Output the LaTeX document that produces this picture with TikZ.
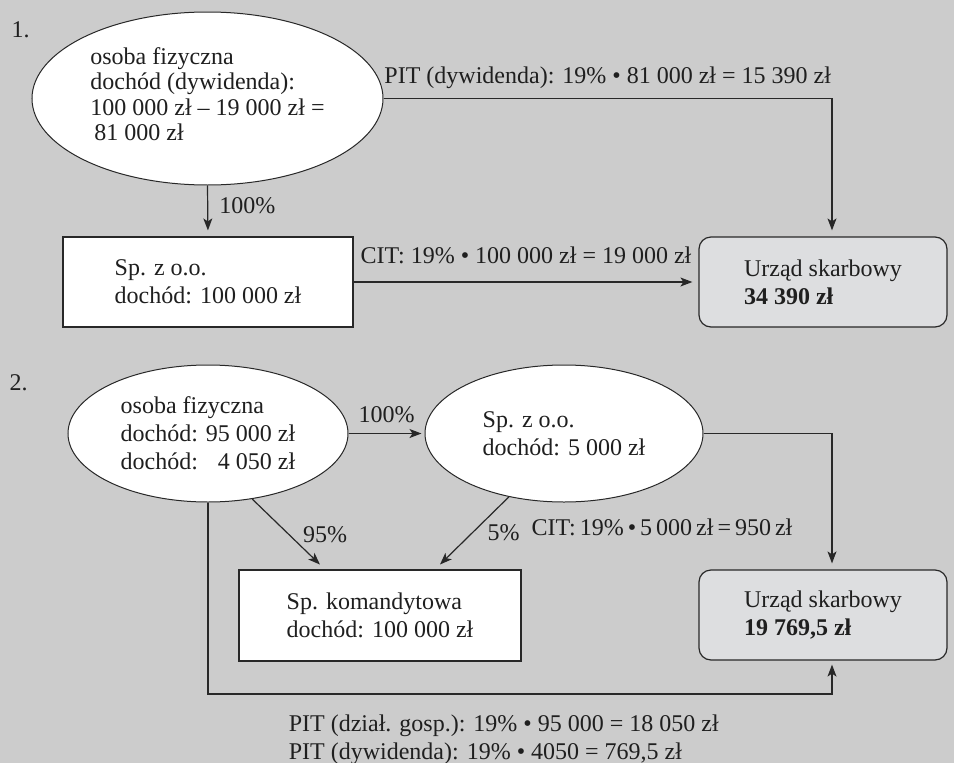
\documentclass[tikz,border=0pt]{standalone}
\usepackage{fontspec}
\setmainfont{Liberation Serif}
\usepackage{tikz}
\usetikzlibrary{arrows.meta,shapes.geometric,calc}
\definecolor{bggray}{RGB}{204,204,204}
\definecolor{usgray}{RGB}{221,222,224}
\definecolor{linegray}{RGB}{40,40,40}
\tikzset{%
  >={Stealth[width=9pt,length=12pt,inset=3pt]},
  % Specifications for style of nodes:
             txt/.style = {font={\fontsize{24}{28}\selectfont}, text=black!88},
            oval/.style = {ellipse, draw=linegray, fill=white, line width=1pt,
                           inner sep=0pt, align=left, txt},
            base/.style = {rectangle, draw=linegray, fill=white, line width=1.2pt,
                           align=left, txt},
          office/.style = {base, rounded corners=12pt, fill=usgray},
             lbl/.style = {inner sep=4pt, align=left, txt}
                           }

\begin{document}
\begin{tikzpicture}[x=1pt, y=-1pt, line width=1.2pt, draw=linegray]
                    \fill[bggray] (0,0) rectangle (954,763);
                    \useasboundingbox (0,0) rectangle (954,763);

                    % 1.
                    \node (num1)    [lbl, anchor=base west, inner sep=0pt] at (11,37)  {1.};
                    \node (person1) [oval, minimum width=351pt, minimum height=173pt,
                                     font={\fontsize{24}{25.5}\selectfont}] at (207.5,98.5)
                                    {osoba fizyczna\\dochód (dywidenda):\\100 000 zł – 19 000 zł =\\\hspace*{4pt}81 000 zł\rule[-9pt]{0pt}{1pt}};
                    \node (corp1)   [base, minimum width=290pt, minimum height=90pt] at (208,282)
                                    {Sp. z o.o.\\dochód: 100 000 zł};
                    \node (office1) [office, minimum width=248pt, minimum height=90pt] at (823,282)
                                    {Urząd skarbowy\\\textbf{34 390 zł}};

                    \draw[->, shorten >=6pt] (person1.south) -- (corp1.north)
                        node[lbl, pos=0.4, right=7pt] (pct1) {100\%};
                    \draw[->, shorten >=6pt] (person1.east) -| ([xshift=9pt]office1.north)
                        node[lbl, pos=0.25, above=5pt] (pit1) {PIT (dywidenda): 19\% • 81 000 zł = 15 390 zł};
                    \draw[->, shorten >=6pt] (corp1.east) -- (office1.west)
                        node[lbl, midway, above=14pt] (cit1) {CIT: 19\% • 100 000 zł = 19 000 zł};

                    % 2.
                    \node (num2)    [lbl, anchor=base west, inner sep=0pt] at (9,390)  {2.};
                    \node (person2) [oval, minimum width=280pt, minimum height=137pt] at (208,433.5)
                                    {osoba fizyczna\\dochód: 95 000 zł\\dochód: \phantom{9}4 050 zł};
                    \node (spz2)    [oval, minimum width=278pt, minimum height=137pt] at (564,433.5)
                                    {Sp. z o.o.\\dochód: 5 000 zł};
                    \node (komand)  [base, minimum width=282pt, minimum height=91pt] at (380,615.5)
                                    {Sp. komandytowa\\dochód: 100 000 zł};
                    \node (office2) [office, minimum width=248pt, minimum height=90pt] at (823,615)
                                    {Urząd skarbowy\\\textbf{19 769,5 zł}};
                    \coordinate (pitturn) at (832,694);

                    \draw[->, shorten >=3pt] (person2.east) -- (spz2.west)
                        node[lbl, midway, above=6pt] (pct2) {100\%};
                    \draw[->, shorten >=7pt] (person2.-56) -- ([xshift=-55pt]komand.north)
                        node[lbl, pos=0.5, right=10pt] (pct3) {95\%};
                    \draw[->, shorten >=7pt] (spz2.-131) -- ([xshift=55pt]komand.north)
                        node[lbl, pos=0.5, right=11pt] (pct4) {5\%};
                    \draw[->, shorten >=6pt] (spz2.east) -| ([xshift=9pt]office2.north)
                        node[lbl, pos=0.846, left=35pt,
                             font={\fontsize{24}{28}\selectfont\spaceskip=4pt\relax}] (cit2)
                        {CIT: 19\% • 5 000 zł = 950 zł};
                    \draw[->, shorten >=4pt] (person2.south) |- (pitturn)
                        node[lbl, pos=0.737, below=16pt] (pit2)
                        {PIT (dział. gosp.): 19\% • 95 000 = 18 050 zł\\PIT (dywidenda): 19\% • 4050 = 769,5 zł}
                        -- ([xshift=9pt]office2.south);
                \end{tikzpicture}
\end{document}
